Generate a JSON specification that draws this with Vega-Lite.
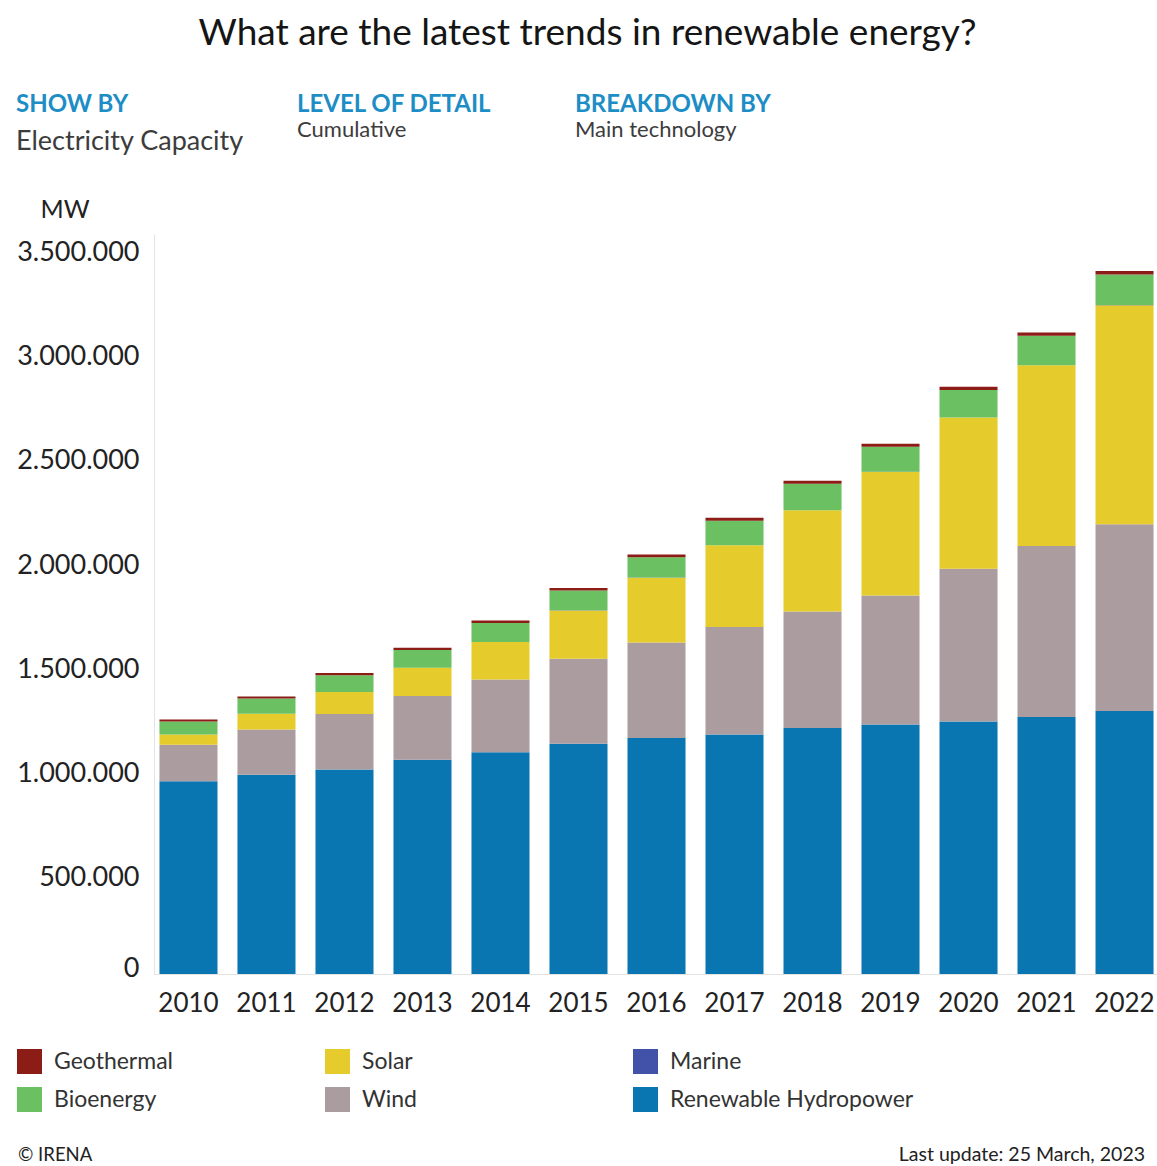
{
  "$schema": "https://vega.github.io/schema/vega-lite/v6.json",
  "padding": {"left": 16, "top": 15, "right": 0, "bottom": 0},
  "background": "white",
  "config": {
    "font": "Lato",
    "view": {"stroke": null},
    "locale": {"number": {"decimal": ",", "thousands": ".", "grouping": [3], "currency": ["", " €"]}},
    "title": {"font": "Lato", "subtitleFont": "Lato"}
  },
  "title": {"text": "What are the latest trends in renewable energy?", "fontSize": 37, "fontWeight": "normal", "color": "#151515", "anchor": "middle", "offset": 40},
  "spacing": 0,
  "resolve": {"legend": {"color": "independent"}, "scale": {"color": "independent"}},
  "vconcat": [
    {
      "spacing": 0,
      "bounds": "flush",
      "hconcat": [
        {"width": 143, "height": 42, "data": {"values": [{}]}, "mark": {"type": "text"}, "encoding": {"text": {"value": ""}},
         "title": {"text": "SHOW BY", "subtitle": "Electricity Capacity", "anchor": "start", "dx": -138, "fontSize": 24, "fontWeight": "bold", "color": "#1d8dc6", "subtitleFontSize": 27, "subtitleColor": "#3c3c3c", "subtitlePadding": 12, "offset": 0}},
        {"width": 278, "height": 42, "data": {"values": [{}]}, "mark": {"type": "text"}, "encoding": {"text": {"value": ""}},
         "title": {"text": "LEVEL OF DETAIL", "subtitle": "Cumulative", "anchor": "start", "fontSize": 24, "fontWeight": "bold", "color": "#1d8dc6", "subtitleFontSize": 22, "subtitleColor": "#3c3c3c", "subtitlePadding": 3, "offset": 14}},
        {"width": 300, "height": 42, "data": {"values": [{}]}, "mark": {"type": "text"}, "encoding": {"text": {"value": ""}},
         "title": {"text": "BREAKDOWN BY", "subtitle": "Main technology", "anchor": "start", "fontSize": 24, "fontWeight": "bold", "color": "#1d8dc6", "subtitleFontSize": 22, "subtitleColor": "#3c3c3c", "subtitlePadding": 3, "offset": 14}}
      ]
    },
    {
      "width": 1005,
      "height": 740,
      "data": {"values": [
        {"year": "2010", "Renewable Hydropower": 925200, "Wind": 174200, "Solar": 49500, "Bioenergy": 62000, "Geothermal": 10000, "Marine": 500},
        {"year": "2011", "Renewable Hydropower": 955400, "Wind": 217500, "Solar": 75400, "Bioenergy": 72500, "Geothermal": 10500, "Marine": 500},
        {"year": "2012", "Renewable Hydropower": 980800, "Wind": 266000, "Solar": 105600, "Bioenergy": 80200, "Geothermal": 11000, "Marine": 500},
        {"year": "2013", "Renewable Hydropower": 1027400, "Wind": 305800, "Solar": 135900, "Bioenergy": 84500, "Geothermal": 11500, "Marine": 500},
        {"year": "2014", "Renewable Hydropower": 1064400, "Wind": 348500, "Solar": 179600, "Bioenergy": 90300, "Geothermal": 12000, "Marine": 500},
        {"year": "2015", "Renewable Hydropower": 1104200, "Wind": 408100, "Solar": 231900, "Bioenergy": 95000, "Geothermal": 12500, "Marine": 500},
        {"year": "2016", "Renewable Hydropower": 1131600, "Wind": 459000, "Solar": 310600, "Bioenergy": 97400, "Geothermal": 13000, "Marine": 500},
        {"year": "2017", "Renewable Hydropower": 1148900, "Wind": 515600, "Solar": 391800, "Bioenergy": 118000, "Geothermal": 13500, "Marine": 500},
        {"year": "2018", "Renewable Hydropower": 1179600, "Wind": 559800, "Solar": 484900, "Bioenergy": 127100, "Geothermal": 14000, "Marine": 500},
        {"year": "2019", "Renewable Hydropower": 1196900, "Wind": 619300, "Solar": 592400, "Bioenergy": 120000, "Geothermal": 14500, "Marine": 500},
        {"year": "2020", "Renewable Hydropower": 1211300, "Wind": 733100, "Solar": 725000, "Bioenergy": 132300, "Geothermal": 15000, "Marine": 500},
        {"year": "2021", "Renewable Hydropower": 1232400, "Wind": 821000, "Solar": 867000, "Bioenergy": 141500, "Geothermal": 15500, "Marine": 500},
        {"year": "2022", "Renewable Hydropower": 1261200, "Wind": 895900, "Solar": 1051300, "Bioenergy": 147300, "Geothermal": 16000, "Marine": 500}
      ]},
      "transform": [
        {"fold": ["Renewable Hydropower", "Wind", "Solar", "Marine", "Bioenergy", "Geothermal"], "as": ["tech", "value"]},
        {"calculate": "indexof(['Renewable Hydropower', 'Wind', 'Solar', 'Marine', 'Bioenergy', 'Geothermal'], datum.tech)", "as": "stackOrder"}
      ],
      "mark": {"type": "bar"},
      "encoding": {
        "x": {"field": "year", "type": "ordinal",
              "scale": {"paddingInner": 0.256, "paddingOuter": 0.07},
              "axis": {"title": null, "labelAngle": 0, "labelFontSize": 26, "labelColor": "#222", "ticks": false, "domainColor": "#e3e3e3", "labelPadding": 16}},
        "y": {"field": "value", "type": "quantitative", "stack": "zero",
              "scale": {"domain": [0, 3550000], "nice": false},
              "axis": {"values": [0, 500000, 1000000, 1500000, 2000000, 2500000, 3000000, 3500000], "format": ",d", "grid": false, "ticks": false, "domainColor": "#e3e3e3", "labelFontSize": 27, "labelColor": "#222", "labelPadding": 15, "labelOffset": 8, "labelFlush": true,
                       "title": "MW", "titleAngle": 0, "titleFontSize": 25, "titleFontWeight": "normal", "titleColor": "#222", "titleX": -114, "titleY": -12, "titleAlign": "left", "titleBaseline": "bottom"}},
        "color": {"field": "tech", "type": "nominal",
                  "scale": {"domain": ["Geothermal", "Bioenergy", "Solar", "Wind", "Marine", "Renewable Hydropower"],
                            "range": ["#8c1c16", "#6bc062", "#e5cb2b", "#ab9ca0", "#4152a8", "#0a76b1"]},
                  "legend": {"title": null, "orient": "none", "legendX": -137, "legendY": 815, "columns": 3, "symbolType": "square", "symbolSize": 625, "symbolStrokeWidth": 0, "symbolOpacity": 1, "labelFontSize": 23, "labelColor": "#333", "labelOffset": 12, "rowPadding": 13, "columnPadding": 27, "gridAlign": "all", "labelLimit": 400}},
        "order": {"field": "stackOrder", "type": "quantitative"}
      }
    },
    {
      "spacing": 0,
      "bounds": "flush",
      "hconcat": [
        {"width": 400, "height": 30, "data": {"values": [{}]}, "mark": {"type": "text"}, "encoding": {"text": {"value": ""}},
         "title": {"text": "© IRENA", "orient": "bottom", "anchor": "start", "dx": -136, "fontSize": 18.5, "fontWeight": "normal", "color": "#222", "offset": 4}},
        {"width": 591, "height": 30, "data": {"values": [{}]}, "mark": {"type": "text"}, "encoding": {"text": {"value": ""}},
         "title": {"text": "Last update: 25 March, 2023", "orient": "bottom", "anchor": "end", "fontSize": 19.5, "fontWeight": "normal", "color": "#222", "offset": 4}}
      ]
    }
  ]
}
